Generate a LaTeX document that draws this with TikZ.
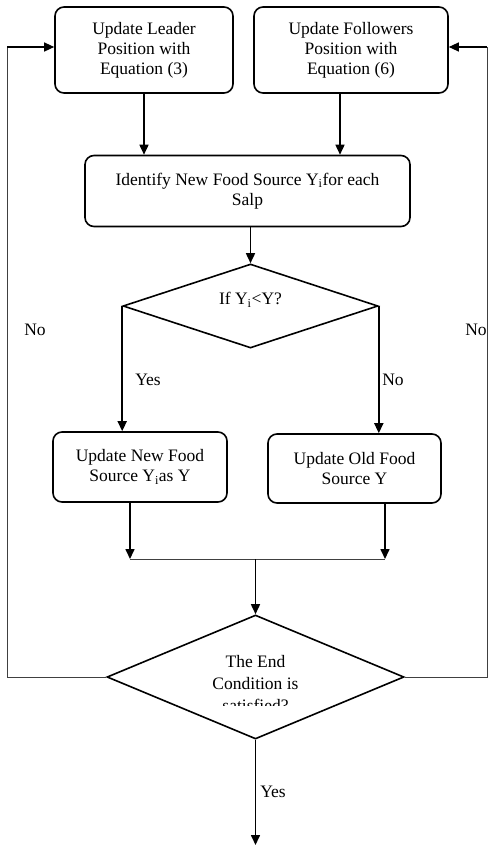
\documentclass[tikz,border=0pt]{standalone}
\usepackage{fontspec}
\setmainfont{Liberation Serif}
\usepackage{tikz}
\usetikzlibrary{arrows.meta, shapes.geometric}
\tikzset{
  stepbox/.style={draw=black,line width=1.6pt,rounded corners=9pt,align=center,inner sep=0pt,
    font=\fontsize{17.5}{20}\selectfont},
  decnode/.style={diamond,draw=black,line width=1.6pt,inner sep=0pt,aspect=3},
  flowarrow/.style={-{Triangle[length=10pt,width=9pt]},line width=1.6pt,black},
  loopline/.style={line width=1pt,black!75},
  lbl/.style={font=\fontsize{17.5}{20}\selectfont,inner sep=0pt},
}

\begin{document}
\begin{tikzpicture}[x=1pt,y=-1pt]
  \useasboundingbox (0,0) rectangle (492,846);
  \node[stepbox,minimum width=178pt,minimum height=86pt] (lead) at (144,50)
    {Update Leader\\Position with\\Equation (3)};
  \node[stepbox,minimum width=194pt,minimum height=86pt] (foll) at (351,50)
    {Update Followers\\Position with\\Equation (6)};
  \node[stepbox,minimum width=325pt,minimum height=71pt] (ident) at (247.5,191)
    {Identify New Food Source Y\textsubscript{i}for each\\Salp};
  \node[decnode,minimum width=255pt,minimum height=84pt] (chk) at (250.5,306) {};
  \node[lbl] (chktxt) at (250.5,300) {If Y\textsubscript{i}<Y?};
  \node[stepbox,minimum width=174pt,minimum height=70pt] (newf) at (140,467)
    {Update New Food\\Source Y\textsubscript{i}as Y};
  \node[stepbox,minimum width=173pt,minimum height=69pt] (oldf) at (354.5,468.5)
    {Update Old Food\\Source Y};
  \node[decnode,minimum width=297pt,minimum height=124pt] (stop) at (255.5,677) {};
  % text of the last test is cut off at its third line
  \begin{scope}
    \clip (100,600) rectangle (410,705);
    \node[lbl,align=center,font=\fontsize{17.5}{22}\selectfont] (stoptxt) at (255.5,684)
      {The End\\Condition is\\satisfied?};
  \end{scope}
  \coordinate (joinL) at (130,559);
  \coordinate (joinR) at (385,559);
  \coordinate (loopL) at (7,47);
  \coordinate (loopR) at (487,47);
  \coordinate (fin) at (255.5,845);

  \draw[flowarrow] (lead.south) -- (lead.south |- ident.north);
  \draw[flowarrow] ([xshift=-11pt]foll.south) -- ([xshift=-11pt]foll.south |- ident.north);
  \draw[flowarrow] (ident.south -| chk.north) -- (chk.north);
  \draw[flowarrow] (chk.west) -- (chk.west |- newf.north);
  \draw[flowarrow] (chk.east) -- (chk.east |- oldf.north);
  \draw[flowarrow] (newf.south -| joinL) -- (joinL);
  \draw[flowarrow] (oldf.south -| joinR) -- (joinR);
  \draw[loopline] (joinL) -- (joinR);
  \draw[flowarrow] (joinL -| stop.north) -- (stop.north);
  \draw[flowarrow] (stop.south) -- (fin);
  \draw[loopline] (stop.west) -| (loopL);
  \draw[flowarrow,line width=1.2pt] (loopL) -- ([yshift=3pt]lead.west);
  \draw[loopline] (stop.east) -| (loopR);
  \draw[flowarrow,line width=1.2pt] (loopR) -- ([yshift=3pt]foll.east);

  \node[lbl] (noL) at (35,330) {No};
  \node[lbl] (noR) at (476,330) {No};
  \node[lbl] (yesA) at (148,380) {Yes};
  \node[lbl] (noA) at (393,380) {No};
  \node[lbl] (yesB) at (273,792) {Yes};
\end{tikzpicture}
\end{document}
